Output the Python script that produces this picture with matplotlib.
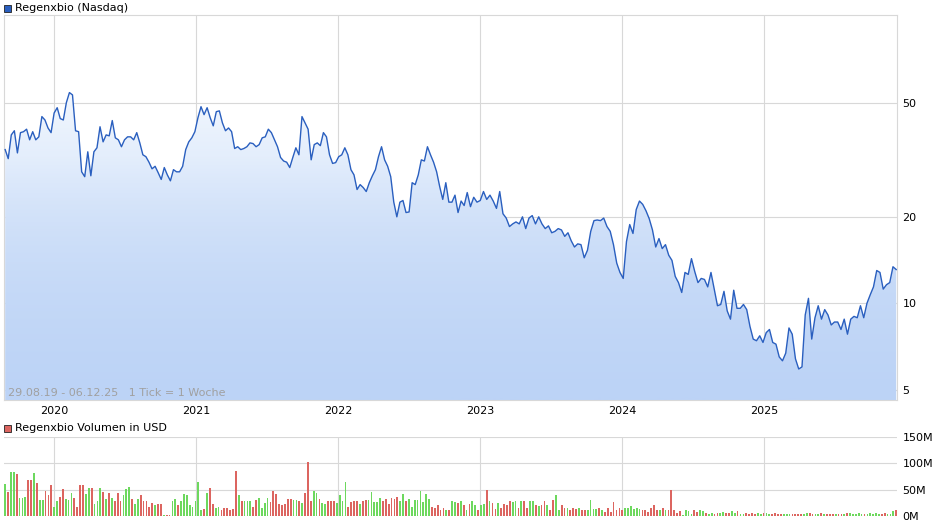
import numpy as np
import pandas as pd
import matplotlib
matplotlib.use('Agg')
import matplotlib.pyplot as plt
import matplotlib.dates as mdates
from matplotlib.patches import Rectangle

# weekly-ish closes (first part up to late Nov 2022)
price_a = [34.3, 31.9, 38.6, 39.9, 33.4, 39.3, 39.6, 40.4, 37.1, 39.6, 37.1, 38.0, 44.7, 43.5, 40.8, 39.3,
           46.0, 48.0, 44.0, 43.5, 50.0, 54.2, 53.2, 39.9, 39.6, 28.7, 27.6, 33.7, 27.8, 33.7, 34.8, 41.2,
           36.5, 38.6, 38.3, 43.3, 37.7, 37.1, 35.1, 37.1, 38.0, 38.0, 37.1, 39.3, 36.2, 32.9, 32.4, 31.0,
           29.4, 30.0, 28.5, 27.0, 29.7, 28.0, 26.7, 29.2, 28.7, 28.7, 30.0, 34.3, 36.5, 37.7, 39.6, 44.3,
           48.4, 45.4, 48.0, 44.3, 41.5, 46.5, 46.8, 42.5, 39.9, 40.8, 39.6, 34.6, 35.1, 34.3, 34.6, 35.1,
           36.2, 36.0, 35.1, 35.7, 37.7, 38.0, 40.4, 39.3, 37.1, 35.1, 32.2, 31.3, 31.0, 29.7, 32.2, 34.8,
           32.9, 44.7, 42.5, 40.4, 31.6, 35.7, 36.2, 35.4, 39.3, 38.0, 32.9, 30.7, 30.9, 32.4, 32.9, 34.8,
           32.9, 29.2, 28.0, 24.9, 25.9, 25.3, 24.5, 26.3, 27.8, 29.2, 32.4, 35.1, 31.6, 30.0, 27.6, 22.5,
           20.0, 22.5, 22.8, 20.7, 20.8, 26.3, 25.9, 28.0, 31.6, 31.3, 35.1, 32.9, 31.0, 28.7, 25.5, 23.0,
           26.3, 22.5, 22.5, 23.8, 20.7, 22.7, 21.9, 24.3]
# second part, late Nov 2022 to Dec 2025
price_b = [21.7, 23.4, 22.5, 22.8, 24.5, 23.0, 23.8, 22.7, 21.4, 24.5, 20.5, 19.8, 18.5, 18.9, 19.2, 18.9,
           20.0, 18.2, 19.8, 20.2, 18.9, 20.0, 18.9, 18.2, 18.6, 17.6, 17.8, 18.2, 18.0, 17.1, 17.6, 16.5,
           15.7, 16.1, 16.0, 14.4, 15.3, 17.8, 19.4, 19.5, 19.4, 19.8, 18.5, 17.8, 16.0, 13.8, 12.8, 12.2,
           16.4, 18.8, 17.5, 21.2, 22.7, 22.1, 21.0, 19.7, 18.0, 15.7, 16.8, 15.5, 16.0, 14.7, 14.1, 12.4,
           11.8, 10.9, 12.8, 12.6, 14.3, 12.9, 11.8, 12.2, 12.1, 11.4, 12.8, 11.2, 9.8, 9.9, 11.0, 9.4,
           8.8, 11.1, 9.6, 9.6, 9.9, 9.5, 8.3, 7.5, 7.4, 7.7, 7.3, 7.9, 8.1, 7.3, 7.2, 6.5, 6.3, 6.7,
           8.2, 7.8, 6.4, 5.9, 6.0, 9.1, 10.4, 7.5, 8.9, 9.8, 8.8, 9.5, 9.1, 8.4, 8.6, 8.6, 8.1, 8.8,
           7.8, 8.8, 9.0, 8.9, 9.8, 8.9, 10.0, 10.7, 11.4, 13.0, 12.8, 11.2, 11.6, 11.8, 13.4, 13.1]

# weekly volume in million USD
volume = [61, 46, 84, 84, 80, 35, 35, 37, 69, 69, 82, 63, 31, 31, 48, 39, 59, 18, 28, 37, 52, 33, 31, 43,
          35, 18, 59, 59, 41, 54, 54, 22, 28, 54, 46, 33, 43, 35, 28, 44, 29, 39, 52, 56, 33, 22, 33, 39,
          28, 28, 18, 24, 20, 22, 22, 1, 1, 1, 29, 33, 20, 28, 41, 39, 20, 18, 28, 65, 12, 14, 44, 54,
          22, 16, 18, 12, 16, 16, 12, 14, 86, 39, 28, 29, 28, 28, 18, 31, 35, 16, 24, 35, 26, 48, 41, 22,
          20, 22, 33, 33, 31, 31, 28, 24, 44, 103, 28, 48, 44, 33, 24, 22, 28, 28, 29, 24, 39, 29, 65, 18,
          26, 28, 28, 22, 28, 31, 31, 46, 26, 26, 35, 29, 33, 22, 35, 33, 37, 28, 41, 29, 33, 18, 31, 31,
          48, 26, 41, 33, 18, 16, 20, 11, 16, 11, 11, 29, 26, 24, 29, 20, 12, 22,
          28, 20, 12, 20, 22, 50, 28, 24, 14, 24, 16, 22, 20, 28, 26, 29, 16, 29, 28, 16, 29, 28, 20, 19,
          20, 29, 20, 12, 31, 39, 12, 20, 16, 16, 12, 16, 14, 16, 12, 11, 11, 31, 14, 14, 16, 11, 7, 16,
          7, 26, 11, 16, 12, 16, 16, 19, 14, 16, 14, 11, 11, 7, 16, 20, 11, 11, 16, 11, 11, 50, 11, 5,
          9, 1, 12, 9, 3, 12, 7, 12, 9, 5, 4, 5, 3, 6, 5, 7, 5, 5, 9, 5, 9, 4, 3, 5, 4, 5, 3, 5, 4, 5,
          5, 3, 3, 5, 4, 3, 3, 4, 4, 3, 3, 4, 3, 3, 5, 5, 4, 3, 3, 5, 4, 3, 4, 4, 4, 3, 4, 4, 5, 5, 4,
          4, 5, 4, 3, 4, 5, 4, 5, 4, 3, 5, 4, 3, 9, 11]

start, mid, end = pd.Timestamp('2019-08-29'), pd.Timestamp('2022-11-29'), pd.Timestamp('2025-12-06')
da = pd.to_datetime(np.linspace(start.value, mid.value, len(price_a)))
db = pd.to_datetime(np.linspace(mid.value, end.value, len(price_b) + 1)[1:])
p_dates = da.append(db)
price = np.array(price_a + price_b)
v_dates = pd.to_datetime(np.linspace(start.value, end.value, len(volume)))
volume = np.array(volume)

fig = plt.figure(figsize=(9.4, 5.26), dpi=100)
grid_c = '#d8d8d8'

ax = fig.add_axes([4/940, 1-400/526, 893/940, 385/526])
ax.set_yscale('log')
x0 = mdates.date2num(start - pd.Timedelta(days=3))
x1 = mdates.date2num(end + pd.Timedelta(days=2))
ax.set_xlim(x0, x1)
ax.set_ylim(4.6, 101)

# gradient fill under the line
xn = mdates.date2num(p_dates)
poly = ax.fill_between(p_dates, price, 1e-3, color='none')
grad = np.linspace(0, 1, 256).reshape(-1, 1)
cmap = matplotlib.colors.LinearSegmentedColormap.from_list('g', ['#bcd3f6', '#e4eefc', '#f8fbff'])
im = ax.imshow(grad, cmap=cmap, aspect='auto', origin='lower',
               extent=[x0, x1, 4.6, 60], zorder=1)
im.set_clip_path(poly.get_paths()[0], transform=ax.transData)
ax.plot(p_dates, price, color='#2a5fbf', lw=1.0, zorder=3)
ax.set_xlim(x0, x1)
ax.set_ylim(4.6, 101)

ax.set_yticks([5, 10, 20, 50])
ax.set_yticklabels(['5', '10', '20', '50'])
ax.minorticks_off()
ax.yaxis.tick_right()
ax.xaxis.set_major_locator(mdates.YearLocator())
ax.xaxis.set_major_formatter(mdates.DateFormatter('%Y'))
ax.tick_params(length=0, labelsize=8, pad=4)
ax.grid(True, color=grid_c, lw=0.8, zorder=0)
ax.set_axisbelow(True)
for s in ax.spines.values():
    s.set_color(grid_c)
ax.text(0.005, 0.005, '29.08.19 - 06.12.25   1 Tick = 1 Woche', transform=ax.transAxes,
        fontsize=8, color='#a0a0a0', va='bottom', zorder=4)

# volume panel
axv = fig.add_axes([4/940, 10/526, 893/940, 79/526])
up = np.interp(mdates.date2num(v_dates), xn, price)
chg = np.diff(up, prepend=up[0])
colors = np.where(chg >= 0, '#6dd85e', '#dc6560')
axv.bar(v_dates, volume, width=4.5, color=colors, zorder=3)
axv.set_xlim(x0, x1)
axv.set_ylim(0, 150)
axv.set_yticks([0, 50, 100, 150])
axv.set_yticklabels(['0M', '50M', '100M', '150M'])
axv.yaxis.tick_right()
axv.xaxis.set_major_locator(mdates.YearLocator())
axv.set_xticklabels([])
axv.tick_params(length=0, labelsize=8, pad=4)
axv.grid(True, color=grid_c, lw=0.8, zorder=0)
for s in axv.spines.values():
    s.set_visible(False)

# legends
fig.patches.append(Rectangle((4/940, 1-12/526), 7/940, 7/526, transform=fig.transFigure,
                             facecolor='#2a5fbf', edgecolor='#222222', lw=0.6))
fig.text(15/940, 1-8/526, 'Regenxbio (Nasdaq)', fontsize=8, va='center')
fig.patches.append(Rectangle((4/940, 1-432/526), 7/940, 7/526, transform=fig.transFigure,
                             facecolor='#dc6560', edgecolor='#222222', lw=0.6))
fig.text(15/940, 1-428/526, 'Regenxbio Volumen in USD', fontsize=8, va='center')

fig.savefig('out.png', dpi=100)
